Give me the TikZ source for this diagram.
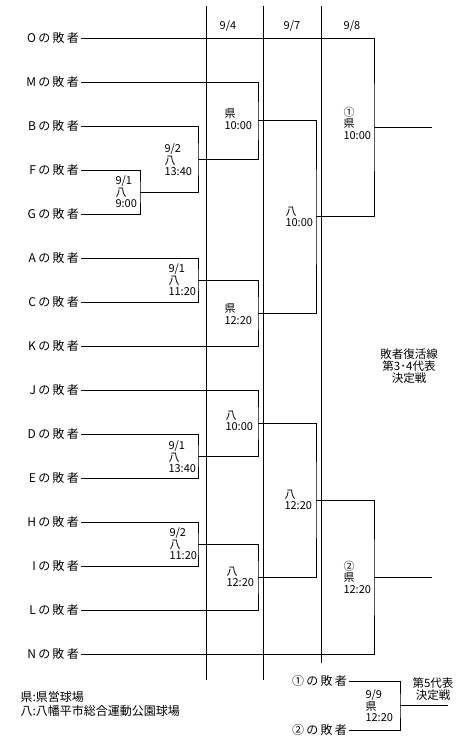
\documentclass[tikz,border=0pt]{standalone}
\usepackage{fontspec}
\setmainfont{Noto Sans CJK JP}
\newcommand{\loser}[1]{#1\hspace{2.5pt}の\hspace{2pt}敗\hspace{2.5pt}者}
\begin{document}
\begin{tikzpicture}[x=1pt,y=-1pt,line width=1pt,
  team/.style={anchor=east,inner xsep=1.5pt,inner ysep=0pt,font=\fontsize{12}{13}\selectfont},
  game/.style={anchor=west,align=left,inner sep=0pt,font=\fontsize{11}{11.5}\selectfont},
  hdr/.style={inner sep=0pt,font=\fontsize{11}{12}\selectfont},
  note/.style={align=center,inner sep=0pt,font=\fontsize{11.5}{12}\selectfont}]
\useasboundingbox (0,0) rectangle (467,745);
% column separators
\draw (206,6) -- (206,680);
\draw (263,6) -- (263,680);
\draw (321,6) -- (321,663);
\node[hdr] (h4) at (228,26) {9/4};
\node[hdr] (h7) at (292,26) {9/7};
\node[hdr] (h8) at (352,26) {9/8};
% teams
\node[team] (O) at (81,38) {\loser{O}};
\node[team] (M) at (81,82) {\loser{M}};
\node[team] (B) at (81,126) {\loser{B}};
\node[team] (F) at (81,170) {\loser{F}};
\node[team] (G) at (81,214) {\loser{G}};
\node[team] (A) at (81,258) {\loser{A}};
\node[team] (C) at (81,302) {\loser{C}};
\node[team] (K) at (81,346) {\loser{K}};
\node[team] (J) at (81,390) {\loser{J}};
\node[team] (D) at (81,434) {\loser{D}};
\node[team] (E) at (81,478) {\loser{E}};
\node[team] (H) at (81,522) {\loser{H}};
\node[team] (I) at (81,566) {\loser{I}};
\node[team] (L) at (81,610) {\loser{L}};
\node[team] (N) at (81,654) {\loser{N}};
% match points
\coordinate (m1) at (140,192);
\coordinate (m2) at (198,159);
\coordinate (m3) at (258,120.5);
\coordinate (m4) at (198,280);
\coordinate (m5) at (258,313);
\coordinate (m6) at (316,216.75);
\coordinate (m7) at (374,127.4);
\coordinate (w1) at (432,127.4);
\coordinate (m8) at (198,456);
\coordinate (m9) at (258,423);
\coordinate (m10) at (198,544);
\coordinate (m11) at (258,577);
\coordinate (m12) at (316,500);
\coordinate (m13) at (374,577);
\coordinate (w2) at (432,577);
% bracket lines
\draw (F.east) -| (m1) |- (G.east);
\draw (B.east) -| (m2) |- (m1);
\draw (M.east) -| (m3) |- (m2);
\draw (A.east) -| (m4) |- (C.east);
\draw (m4) -| (m5) |- (K.east);
\draw (m3) -| (m6) |- (m5);
\draw (O.east) -| (m7) |- (m6);
\draw (m7) -- (w1);
\draw (D.east) -| (m8) |- (E.east);
\draw (J.east) -| (m9) |- (m8);
\draw (H.east) -| (m10) |- (I.east);
\draw (m10) -| (m11) |- (L.east);
\draw (m9) -| (m12) |- (m11);
\draw (m12) -| (m13) |- (N.east);
\draw (m13) -- (w2);
% game labels
\node[game] (g1) at (115,192) {9/1\\八\\9:00};
\node[game] (g2) at (164,160) {9/2\\八\\13:40};
\node[game] (g3) at (224,119) {県\\10:00};
\node[game] (g4) at (168,280) {9/1\\八\\11:20};
\node[game] (g5) at (224,314) {県\\12:20};
\node[game] (g6) at (285,217) {八\\10:00};
\node[game] (g7) at (343,123) {①\\県\\10:00};
\node[game] (g8) at (168,457) {9/1\\八\\13:40};
\node[game] (g9) at (225,421) {八\\10:00};
\node[game] (g10) at (169,544) {9/2\\八\\11:20};
\node[game] (g11) at (226,577) {八\\12:20};
\node[game] (g12) at (284,500) {八\\12:20};
\node[game] (g13) at (343,577) {②\\県\\12:20};
% note
\node[note] (n1) at (409,366) {敗者復活線\\第3･4代表\\決定戦};
% final
\node[team] (p1) at (349,681) {\loser{①}};
\node[team] (p2) at (349,730) {\loser{②}};
\coordinate (m14) at (400,705.5);
\coordinate (w3) at (448,705.5);
\draw (p1.east) -| (m14) |- (p2.east);
\draw (m14) -- (w3);
\node[game] (g14) at (365,706) {9/9\\県\\12:20};
\node[note] (n2) at (433,689) {第5代表\\決定戦};
% legend
\node[anchor=west,align=left,inner sep=0pt,font=\fontsize{12}{14}\selectfont] (leg) at (20,704) {県:県営球場\\八:八幡平市総合運動公園球場};
\end{tikzpicture}
\end{document}
